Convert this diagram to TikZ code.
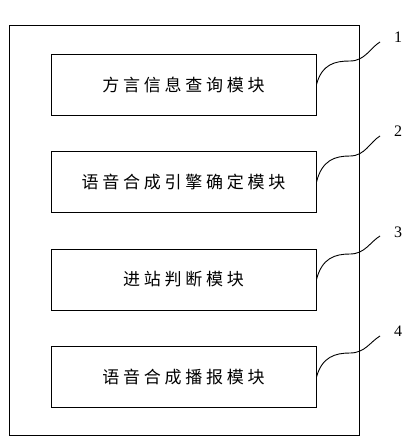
\documentclass[tikz,border=0pt]{standalone}
\usepackage{fontspec}
\setmainfont{Liberation Serif}
\newfontfamily\cjk[LetterSpace=22]{Noto Sans CJK SC}
\usetikzlibrary{positioning}
\tikzset{
  frame/.style={draw, line width=1pt},
  module/.style={draw, line width=1pt, minimum width=265pt, minimum height=61pt,
    font=\cjk\fontsize{17}{18}\selectfont},
  leader/.style={line width=0.9pt},
  tag/.style={inner sep=0pt, font=\fontsize{16}{16}\selectfont}
}

\begin{document}
\begin{tikzpicture}[x=1pt, y=-1pt]
\useasboundingbox (0,0) rectangle (420,447);

% Outer frame
\draw[frame] (9,25) rectangle (359,435);

% Modules
\node[module] (query)  at (183.5,84.5) {方言信息查询模块};
\node[module] (engine) at (183.5,182)  {语音合成引擎确定模块};
\node[module] (judge)  at (183.5,279.5) {进站判断模块};
\node[module] (report) at (183.5,377)  {语音合成播报模块};

% Leader ends and numbers
\coordinate (tipA) at (380,42);
\coordinate (tipB) at (380,136);
\coordinate (tipC) at (380,236);
\coordinate (tipD) at (380,336);
\node[tag] (numA) at (398,37)  {1};
\node[tag] (numB) at (398,131) {2};
\node[tag] (numC) at (398,232) {3};
\node[tag] (numD) at (398,331) {4};

% Leaders
\draw[leader] (query.east) .. controls (322,64) and (335,61) .. (350,61)
  .. controls (365,61) and (370,48) .. (tipA);
\draw[leader] (engine.east) .. controls (322,160) and (335,156) .. (350,156)
  .. controls (365,156) and (370,142) .. (tipB);
\draw[leader] (judge.east) .. controls (322,258) and (335,254) .. (350,254)
  .. controls (365,254) and (370,242) .. (tipC);
\draw[leader] (report.east) .. controls (322,357) and (335,353) .. (350,353)
  .. controls (365,353) and (370,342) .. (tipD);
\end{tikzpicture}
\end{document}
